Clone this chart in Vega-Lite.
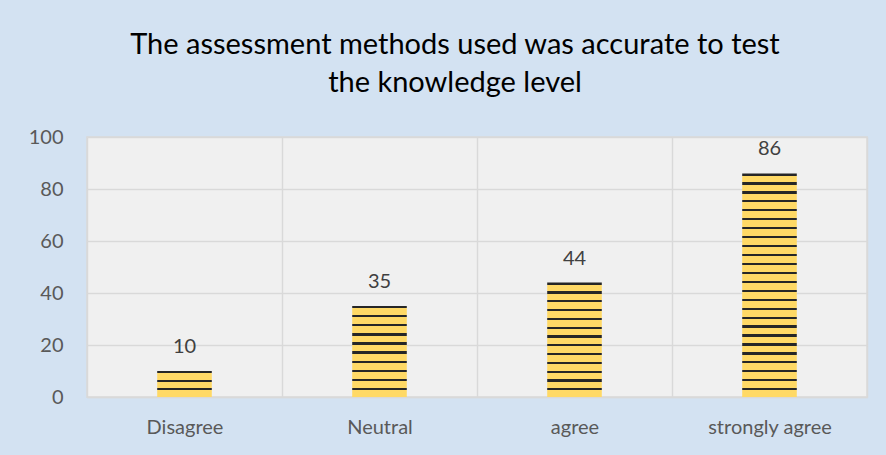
{
  "$schema": "https://vega.github.io/schema/vega-lite/v6.json",
  "autosize": "none",
  "width": 780,
  "height": 260,
  "padding": {"left": 87, "top": 137, "right": 19, "bottom": 58},
  "background": "#d3e2f2",
  "title": {
    "text": ["The assessment methods used was accurate to test", "the knowledge level"],
    "font": "Lato",
    "fontSize": 29,
    "fontWeight": "normal",
    "color": "#000000",
    "anchor": "middle",
    "frame": "group",
    "lineHeight": 38,
    "offset": 29,
    "dx": -22
  },
  "data": {
    "values": [
      {"category": "Disagree", "count": 10},
      {"category": "Neutral", "count": 35},
      {"category": "agree", "count": 44},
      {"category": "strongly agree", "count": 86}
    ]
  },
  "encoding": {
    "x": {
      "field": "category",
      "type": "nominal",
      "sort": null,
      "scale": {"paddingInner": 0, "paddingOuter": 0},
      "axis": {
        "title": null,
        "labelAngle": 0,
        "labelFont": "Lato",
        "labelFontSize": 20,
        "labelColor": "#595959",
        "labelPadding": 20,
        "ticks": false,
        "tickBand": "extent",
        "grid": true,
        "gridColor": "#d9d9d9",
        "gridWidth": 1.5,
        "domainColor": "#d9d9d9",
        "domainWidth": 1.5
      }
    },
    "y": {
      "field": "count",
      "type": "quantitative",
      "scale": {"domain": [0, 100]},
      "axis": {
        "title": null,
        "values": [0, 20, 40, 60, 80, 100],
        "labelFont": "Lato",
        "labelFontSize": 20,
        "labelColor": "#595959",
        "labelPadding": 24,
        "ticks": false,
        "domain": false,
        "gridColor": "#d9d9d9",
        "gridWidth": 1.5
      }
    }
  },
  "layer": [
    {
      "transform": [{"filter": "datum.category === 'Disagree'"}],
      "mark": {"type": "bar", "width": {"band": 0.28}, "fill": {
        "gradient": "linear", "x1": 0, "y1": 0, "x2": 0, "y2": 1,
        "stops": [
          {"offset": 0, "color": "#262626"}, {"offset": 0.0833, "color": "#262626"}, {"offset": 0.0833, "color": "#ffd966"}, {"offset": 0.3333, "color": "#ffd966"},
          {"offset": 0.3333, "color": "#262626"}, {"offset": 0.4167, "color": "#262626"}, {"offset": 0.4167, "color": "#ffd966"}, {"offset": 0.6667, "color": "#ffd966"},
          {"offset": 0.6667, "color": "#262626"}, {"offset": 0.75, "color": "#262626"}, {"offset": 0.75, "color": "#ffd966"}, {"offset": 1, "color": "#ffd966"}
        ]
      }}
    },
    {
      "transform": [{"filter": "datum.category === 'Neutral'"}],
      "mark": {"type": "bar", "width": {"band": 0.28}, "fill": {
        "gradient": "linear", "x1": 0, "y1": 0, "x2": 0, "y2": 1,
        "stops": [
          {"offset": 0, "color": "#262626"}, {"offset": 0.025, "color": "#262626"}, {"offset": 0.025, "color": "#ffd966"}, {"offset": 0.1, "color": "#ffd966"},
          {"offset": 0.1, "color": "#262626"}, {"offset": 0.125, "color": "#262626"}, {"offset": 0.125, "color": "#ffd966"}, {"offset": 0.2, "color": "#ffd966"},
          {"offset": 0.2, "color": "#262626"}, {"offset": 0.225, "color": "#262626"}, {"offset": 0.225, "color": "#ffd966"}, {"offset": 0.3, "color": "#ffd966"},
          {"offset": 0.3, "color": "#262626"}, {"offset": 0.325, "color": "#262626"}, {"offset": 0.325, "color": "#ffd966"}, {"offset": 0.4, "color": "#ffd966"},
          {"offset": 0.4, "color": "#262626"}, {"offset": 0.425, "color": "#262626"}, {"offset": 0.425, "color": "#ffd966"}, {"offset": 0.5, "color": "#ffd966"},
          {"offset": 0.5, "color": "#262626"}, {"offset": 0.525, "color": "#262626"}, {"offset": 0.525, "color": "#ffd966"}, {"offset": 0.6, "color": "#ffd966"},
          {"offset": 0.6, "color": "#262626"}, {"offset": 0.625, "color": "#262626"}, {"offset": 0.625, "color": "#ffd966"}, {"offset": 0.7, "color": "#ffd966"},
          {"offset": 0.7, "color": "#262626"}, {"offset": 0.725, "color": "#262626"}, {"offset": 0.725, "color": "#ffd966"}, {"offset": 0.8, "color": "#ffd966"},
          {"offset": 0.8, "color": "#262626"}, {"offset": 0.825, "color": "#262626"}, {"offset": 0.825, "color": "#ffd966"}, {"offset": 0.9, "color": "#ffd966"},
          {"offset": 0.9, "color": "#262626"}, {"offset": 0.925, "color": "#262626"}, {"offset": 0.925, "color": "#ffd966"}, {"offset": 1, "color": "#ffd966"}
        ]
      }}
    },
    {
      "transform": [{"filter": "datum.category === 'agree'"}],
      "mark": {"type": "bar", "width": {"band": 0.28}, "fill": {
        "gradient": "linear", "x1": 0, "y1": 0, "x2": 0, "y2": 1,
        "stops": [
          {"offset": 0, "color": "#262626"}, {"offset": 0.0192, "color": "#262626"}, {"offset": 0.0192, "color": "#ffd966"}, {"offset": 0.0769, "color": "#ffd966"},
          {"offset": 0.0769, "color": "#262626"}, {"offset": 0.0962, "color": "#262626"}, {"offset": 0.0962, "color": "#ffd966"}, {"offset": 0.1538, "color": "#ffd966"},
          {"offset": 0.1538, "color": "#262626"}, {"offset": 0.1731, "color": "#262626"}, {"offset": 0.1731, "color": "#ffd966"}, {"offset": 0.2308, "color": "#ffd966"},
          {"offset": 0.2308, "color": "#262626"}, {"offset": 0.25, "color": "#262626"}, {"offset": 0.25, "color": "#ffd966"}, {"offset": 0.3077, "color": "#ffd966"},
          {"offset": 0.3077, "color": "#262626"}, {"offset": 0.3269, "color": "#262626"}, {"offset": 0.3269, "color": "#ffd966"}, {"offset": 0.3846, "color": "#ffd966"},
          {"offset": 0.3846, "color": "#262626"}, {"offset": 0.4038, "color": "#262626"}, {"offset": 0.4038, "color": "#ffd966"}, {"offset": 0.4615, "color": "#ffd966"},
          {"offset": 0.4615, "color": "#262626"}, {"offset": 0.4808, "color": "#262626"}, {"offset": 0.4808, "color": "#ffd966"}, {"offset": 0.5385, "color": "#ffd966"},
          {"offset": 0.5385, "color": "#262626"}, {"offset": 0.5577, "color": "#262626"}, {"offset": 0.5577, "color": "#ffd966"}, {"offset": 0.6154, "color": "#ffd966"},
          {"offset": 0.6154, "color": "#262626"}, {"offset": 0.6346, "color": "#262626"}, {"offset": 0.6346, "color": "#ffd966"}, {"offset": 0.6923, "color": "#ffd966"},
          {"offset": 0.6923, "color": "#262626"}, {"offset": 0.7115, "color": "#262626"}, {"offset": 0.7115, "color": "#ffd966"}, {"offset": 0.7692, "color": "#ffd966"},
          {"offset": 0.7692, "color": "#262626"}, {"offset": 0.7885, "color": "#262626"}, {"offset": 0.7885, "color": "#ffd966"}, {"offset": 0.8462, "color": "#ffd966"},
          {"offset": 0.8462, "color": "#262626"}, {"offset": 0.8654, "color": "#262626"}, {"offset": 0.8654, "color": "#ffd966"}, {"offset": 0.9231, "color": "#ffd966"},
          {"offset": 0.9231, "color": "#262626"}, {"offset": 0.9423, "color": "#262626"}, {"offset": 0.9423, "color": "#ffd966"}, {"offset": 1, "color": "#ffd966"}
        ]
      }}
    },
    {
      "transform": [{"filter": "datum.category === 'strongly agree'"}],
      "mark": {"type": "bar", "width": {"band": 0.28}, "fill": {
        "gradient": "linear", "x1": 0, "y1": 0, "x2": 0, "y2": 1,
        "stops": [
          {"offset": 0, "color": "#262626"}, {"offset": 0.01, "color": "#262626"}, {"offset": 0.01, "color": "#ffd966"}, {"offset": 0.04, "color": "#ffd966"},
          {"offset": 0.04, "color": "#262626"}, {"offset": 0.05, "color": "#262626"}, {"offset": 0.05, "color": "#ffd966"}, {"offset": 0.08, "color": "#ffd966"},
          {"offset": 0.08, "color": "#262626"}, {"offset": 0.09, "color": "#262626"}, {"offset": 0.09, "color": "#ffd966"}, {"offset": 0.12, "color": "#ffd966"},
          {"offset": 0.12, "color": "#262626"}, {"offset": 0.13, "color": "#262626"}, {"offset": 0.13, "color": "#ffd966"}, {"offset": 0.16, "color": "#ffd966"},
          {"offset": 0.16, "color": "#262626"}, {"offset": 0.17, "color": "#262626"}, {"offset": 0.17, "color": "#ffd966"}, {"offset": 0.2, "color": "#ffd966"},
          {"offset": 0.2, "color": "#262626"}, {"offset": 0.21, "color": "#262626"}, {"offset": 0.21, "color": "#ffd966"}, {"offset": 0.24, "color": "#ffd966"},
          {"offset": 0.24, "color": "#262626"}, {"offset": 0.25, "color": "#262626"}, {"offset": 0.25, "color": "#ffd966"}, {"offset": 0.28, "color": "#ffd966"},
          {"offset": 0.28, "color": "#262626"}, {"offset": 0.29, "color": "#262626"}, {"offset": 0.29, "color": "#ffd966"}, {"offset": 0.32, "color": "#ffd966"},
          {"offset": 0.32, "color": "#262626"}, {"offset": 0.33, "color": "#262626"}, {"offset": 0.33, "color": "#ffd966"}, {"offset": 0.36, "color": "#ffd966"},
          {"offset": 0.36, "color": "#262626"}, {"offset": 0.37, "color": "#262626"}, {"offset": 0.37, "color": "#ffd966"}, {"offset": 0.4, "color": "#ffd966"},
          {"offset": 0.4, "color": "#262626"}, {"offset": 0.41, "color": "#262626"}, {"offset": 0.41, "color": "#ffd966"}, {"offset": 0.44, "color": "#ffd966"},
          {"offset": 0.44, "color": "#262626"}, {"offset": 0.45, "color": "#262626"}, {"offset": 0.45, "color": "#ffd966"}, {"offset": 0.48, "color": "#ffd966"},
          {"offset": 0.48, "color": "#262626"}, {"offset": 0.49, "color": "#262626"}, {"offset": 0.49, "color": "#ffd966"}, {"offset": 0.52, "color": "#ffd966"},
          {"offset": 0.52, "color": "#262626"}, {"offset": 0.53, "color": "#262626"}, {"offset": 0.53, "color": "#ffd966"}, {"offset": 0.56, "color": "#ffd966"},
          {"offset": 0.56, "color": "#262626"}, {"offset": 0.57, "color": "#262626"}, {"offset": 0.57, "color": "#ffd966"}, {"offset": 0.6, "color": "#ffd966"},
          {"offset": 0.6, "color": "#262626"}, {"offset": 0.61, "color": "#262626"}, {"offset": 0.61, "color": "#ffd966"}, {"offset": 0.64, "color": "#ffd966"},
          {"offset": 0.64, "color": "#262626"}, {"offset": 0.65, "color": "#262626"}, {"offset": 0.65, "color": "#ffd966"}, {"offset": 0.68, "color": "#ffd966"},
          {"offset": 0.68, "color": "#262626"}, {"offset": 0.69, "color": "#262626"}, {"offset": 0.69, "color": "#ffd966"}, {"offset": 0.72, "color": "#ffd966"},
          {"offset": 0.72, "color": "#262626"}, {"offset": 0.73, "color": "#262626"}, {"offset": 0.73, "color": "#ffd966"}, {"offset": 0.76, "color": "#ffd966"},
          {"offset": 0.76, "color": "#262626"}, {"offset": 0.77, "color": "#262626"}, {"offset": 0.77, "color": "#ffd966"}, {"offset": 0.8, "color": "#ffd966"},
          {"offset": 0.8, "color": "#262626"}, {"offset": 0.81, "color": "#262626"}, {"offset": 0.81, "color": "#ffd966"}, {"offset": 0.84, "color": "#ffd966"},
          {"offset": 0.84, "color": "#262626"}, {"offset": 0.85, "color": "#262626"}, {"offset": 0.85, "color": "#ffd966"}, {"offset": 0.88, "color": "#ffd966"},
          {"offset": 0.88, "color": "#262626"}, {"offset": 0.89, "color": "#262626"}, {"offset": 0.89, "color": "#ffd966"}, {"offset": 0.92, "color": "#ffd966"},
          {"offset": 0.92, "color": "#262626"}, {"offset": 0.93, "color": "#262626"}, {"offset": 0.93, "color": "#ffd966"}, {"offset": 0.96, "color": "#ffd966"},
          {"offset": 0.96, "color": "#262626"}, {"offset": 0.97, "color": "#262626"}, {"offset": 0.97, "color": "#ffd966"}, {"offset": 1, "color": "#ffd966"}
        ]
      }}
    },
    {
      "mark": {
        "type": "text",
        "baseline": "alphabetic",
        "dy": -18,
        "font": "Lato",
        "fontSize": 20,
        "color": "#404040"
      },
      "encoding": {"text": {"field": "count", "type": "quantitative"}}
    }
  ],
  "config": {
    "view": {"fill": "#f0f0f0", "stroke": "#d9d9d9", "strokeWidth": 1.5}
  }
}
